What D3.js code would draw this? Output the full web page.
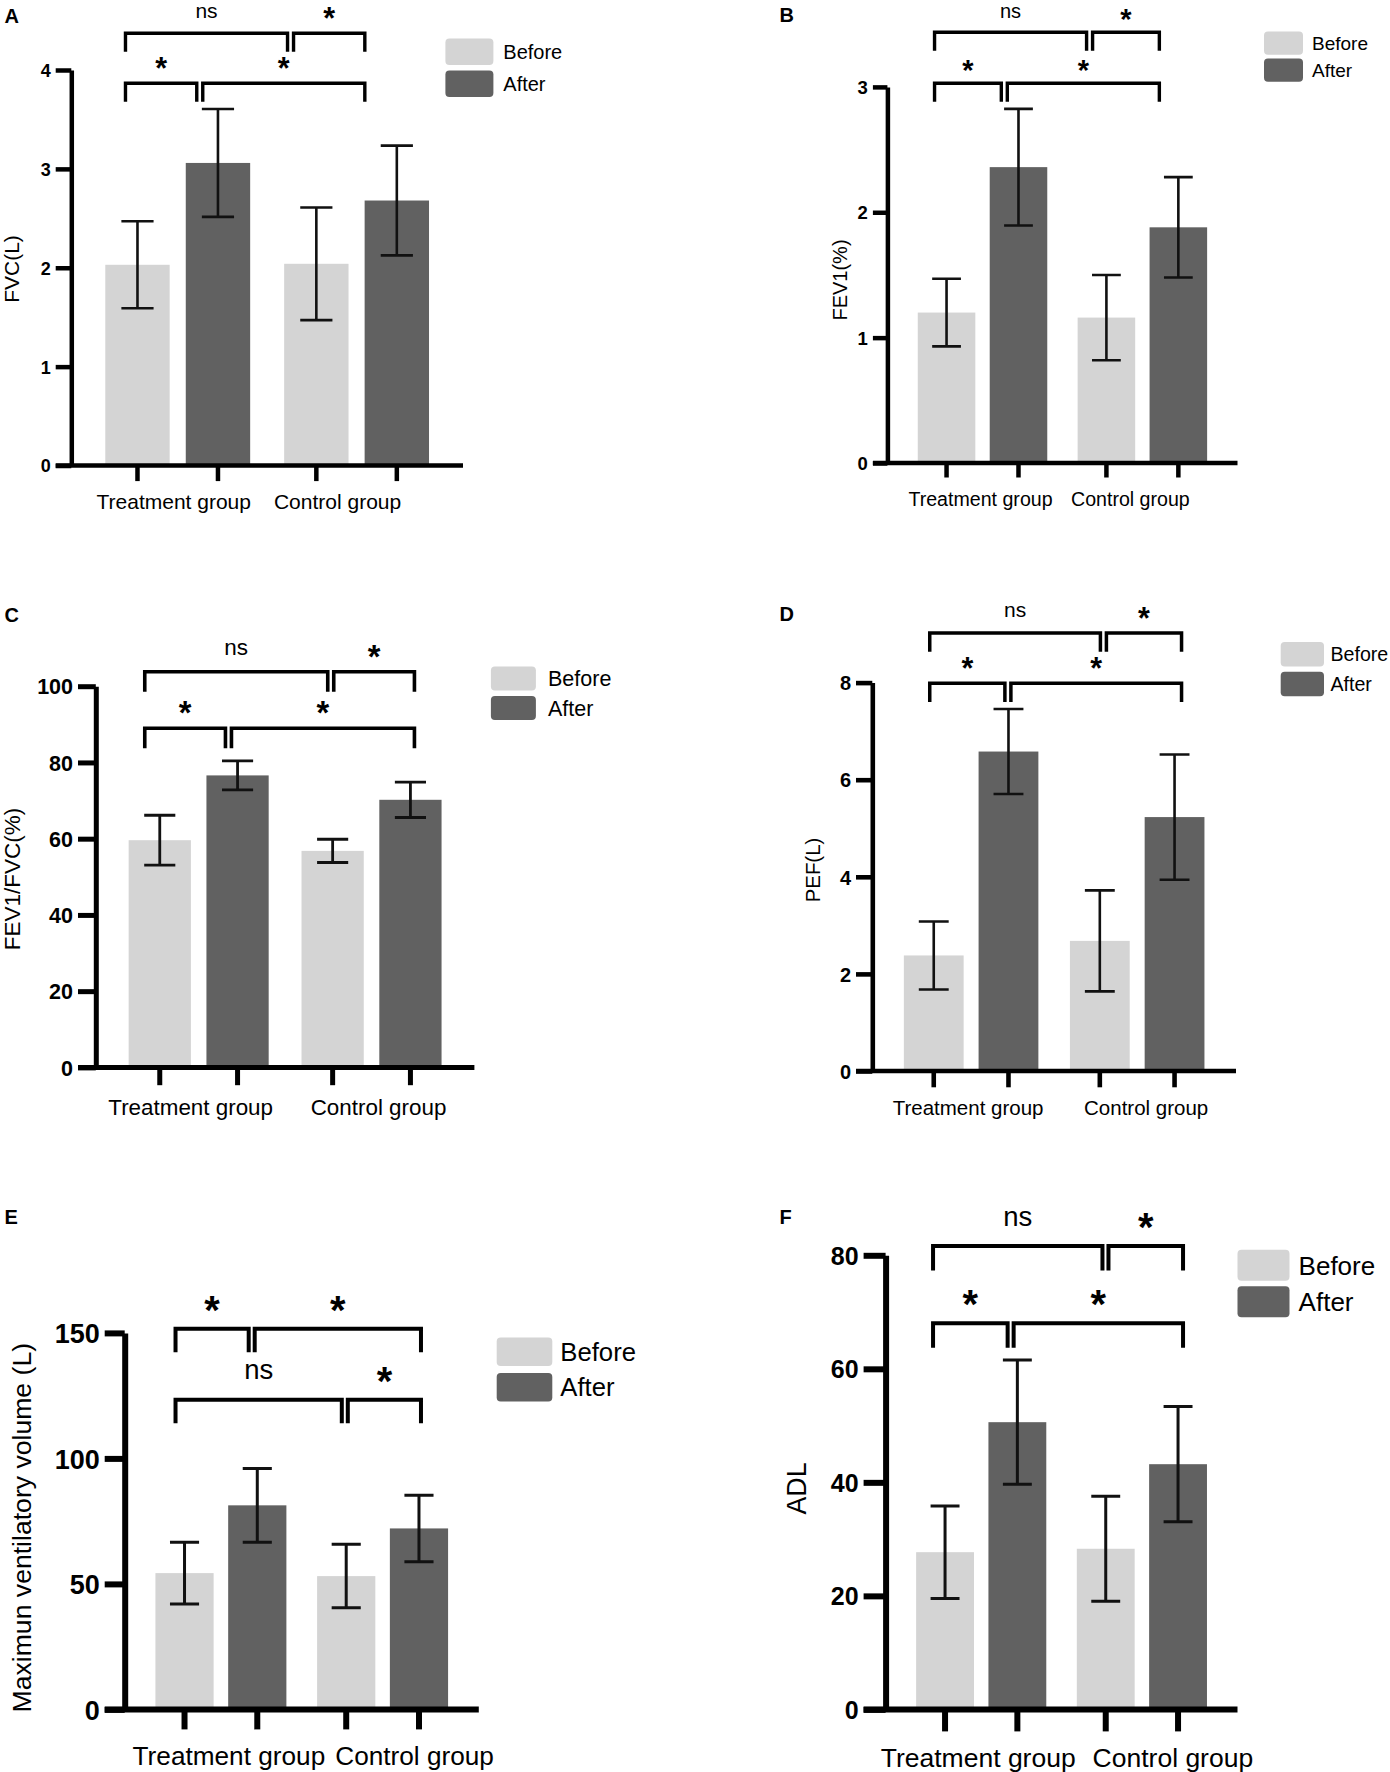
<!DOCTYPE html>
<html lang="en">
<head>
<meta charset="UTF-8" />
<title>Pulmonary function and ADL before and after treatment</title>
<style>
  body { margin: 0; background: #fff; }
  text { font-family: "Liberation Sans", Arial, Helvetica, sans-serif; fill: #000; }
</style>
</head>
<body>
<script src="https://d3js.org/d3.v7.min.js"></script>
<svg id="fig" width="1390" height="1772"></svg>
<script>
// Categories and series
var groups = ["Treatment group", "Control group"];
var series = ["Before", "After"];

// Means and SD, order: TG before, TG after, CG before, CG after
var fvcMean = [2.03, 3.06, 2.04, 2.68];
var fvcSd = [0.44, 0.545, 0.57, 0.555];
var fev1Mean = [1.2, 2.36, 1.16, 1.88];
var fev1Sd = [0.27, 0.465, 0.34, 0.4];
var ratioMean = [59.6, 76.6, 56.8, 70.2];
var ratioSd = [6.55, 3.8, 3.05, 4.65];
var pefMean = [2.38, 6.58, 2.68, 5.23];
var pefSd = [0.7, 0.875, 1.04, 1.29];
var mvvMean = [54.3, 81.3, 53.1, 72.1];
var mvvSd = [12.3, 14.7, 12.65, 13.25];
var adlMean = [27.7, 50.6, 28.3, 43.2];
var adlSd = [8.15, 10.95, 9.25, 10.15];

// Tick values
var fvcTicks = [0, 1, 2, 3, 4];
var fev1Ticks = [0, 1, 2, 3];
var ratioTicks = [0, 20, 40, 60, 80, 100];
var pefTicks = [0, 2, 4, 6, 8];
var mvvTicks = [0, 50, 100, 150];
var adlTicks = [0, 20, 40, 60, 80];

// Significance comparisons (bar indexes) and their labels
var sigPairs = [[0, 2], [2, 3], [0, 1], [1, 3]];
var sigLabels = ["ns", "*", "*", "*"];

var svg = d3.select("#fig");

var panels = [
  { letter: "A", lx: 4.5, ly: 23.3, mean: fvcMean, sd: fvcSd, ticks: fvcTicks,
    x0: 71.3, x1: 463, yTop: 70, yZero: 465.5, tick: 15.6, axisW: 4.5, errW: 2.6, brW: 3.4,
    tickFont: 18, yLabel: "FVC(L)", ylFont: 21, ylX: 18.5, ylY: 269,
    catFont: 21, catY: 509, catShift: [-4, -19],
    tiers: [1, 1, 0, 0], bracketY: [83.3, 33.3], leg: 18.4, bShift: [-12, -32], sigFont: 21,
    legX: 445.4, legY: 38.4, legW: 48, legH: 26.6, legGap: 5.4, legFont: 20, legTX: 503.3 },
  { letter: "B", lx: 779.6, ly: 22.3, mean: fev1Mean, sd: fev1Sd, ticks: fev1Ticks,
    x0: 887.4, x1: 1237.5, yTop: 86.9, yZero: 463, tick: 14.5, axisW: 4.5, errW: 2.6, brW: 3.4,
    tickFont: 18.5, yLabel: "FEV1(%)", ylFont: 20, ylX: 847, ylY: 280,
    catFont: 19.6, catY: 506, catShift: [-2, -12],
    tiers: [1, 1, 0, 0], bracketY: [83.3, 32.3], leg: 18.5, bShift: [-12, -19], sigFont: 20,
    legX: 1264, legY: 31.6, legW: 39, legH: 23.1, legGap: 3.9, legFont: 19, legTX: 1312 },
  { letter: "C", lx: 4.5, ly: 622.3, mean: ratioMean, sd: ratioSd, ticks: ratioTicks,
    x0: 95.8, x1: 474.4, yTop: 686.2, yZero: 1067.4, tick: 17.8, axisW: 5, errW: 2.8, brW: 3.6,
    tickFont: 21.5, yLabel: "FEV1/FVC(%)", ylFont: 22.5, ylX: 19.5, ylY: 879,
    catFont: 22.4, catY: 1114.8, catShift: [-8, 7],
    tiers: [1, 1, 0, 0], bracketY: [728.2, 671.8], leg: 20, bShift: [-15, 4], sigFont: 22.5,
    legX: 490.9, legY: 666.5, legW: 45, legH: 24, legGap: 5.4, legFont: 21.5, legTX: 548 },
  { letter: "D", lx: 779.6, ly: 620.5, mean: pefMean, sd: pefSd, ticks: pefTicks,
    x0: 872.3, x1: 1236, yTop: 682.6, yZero: 1071, tick: 16.3, axisW: 4.6, errW: 2.6, brW: 3.5,
    tickFont: 20, yLabel: "PEF(L)", ylFont: 20.4, ylX: 820, ylY: 870,
    catFont: 20.5, catY: 1114.8, catShift: [-3, 9],
    tiers: [1, 1, 0, 0], bracketY: [683.3, 633], leg: 18.7, bShift: [-4, 7], sigFont: 21,
    legX: 1280.7, legY: 642, legW: 43.3, legH: 24.5, legGap: 5.3, legFont: 19.6, legTX: 1330.5 },
  { letter: "E", lx: 4.5, ly: 1223.6, mean: mvvMean, sd: mvvSd, ticks: mvvTicks,
    x0: 124.7, x1: 478.8, yTop: 1332.9, yZero: 1709.4, tick: 20, axisW: 6, errW: 3, brW: 4,
    tickFont: 27, yLabel: "Maximun ventilatory volume (L)", ylFont: 26.6, ylX: 30.5, ylY: 1527.7,
    catFont: 26.2, catY: 1765, catShift: [8, 32],
    tiers: [0, 0, 1, 1], bracketY: [1399.7, 1328.8], leg: 23.5, bShift: [-9, 2], sigFont: 27.5,
    legX: 496.7, legY: 1337.4, legW: 55.6, legH: 28.5, legGap: 7, legFont: 25.7, legTX: 560.3 },
  { letter: "F", lx: 779.6, ly: 1223.6, mean: adlMean, sd: adlSd, ticks: adlTicks,
    x0: 885.6, x1: 1237.5, yTop: 1255.3, yZero: 1709.4, tick: 22, axisW: 6, errW: 3, brW: 4,
    tickFont: 25, yLabel: "ADL", ylFont: 26.8, ylX: 806.4, ylY: 1488.5,
    catFont: 26.5, catY: 1766.5, catShift: [-3, 31],
    tiers: [1, 1, 0, 0], bracketY: [1323.2, 1246], leg: 24.5, bShift: [-12, 5], sigFont: 27.5,
    legX: 1237.5, legY: 1249.7, legW: 52, legH: 31, legGap: 5.6, legFont: 26, legTX: 1298.6 }
];

var color = d3.scaleOrdinal().domain(series).range(["#d4d4d4", "#616161"]);

panels.forEach(drawPanel);

function drawPanel(p) {
  var g = svg.append("g");

  var y = d3.scaleLinear().domain([0, d3.max(p.ticks)]).range([p.yZero, p.yTop]);
  var x0 = d3.scaleBand().domain(groups).range([p.x0, p.x1]).padding(0.19);
  var x1 = d3.scaleBand().domain(series).range([0, x0.bandwidth()]).paddingInner(0.2);

  var bars = [];
  groups.forEach(function (gr, gi) {
    series.forEach(function (s, si) {
      var k = gi * series.length + si;
      bars.push({
        group: gr, serie: s, mean: p.mean[k], sd: p.sd[k],
        x: x0(gr) + x1(s), cx: x0(gr) + x1(s) + x1.bandwidth() / 2
      });
    });
  });

  // panel letter
  g.append("text").attr("x", p.lx).attr("y", p.ly)
    .attr("font-size", 20).attr("font-weight", "bold").text(p.letter);

  // bars
  g.selectAll(".bar").data(bars).enter().append("rect")
    .attr("class", "bar")
    .attr("x", function (d) { return d.x; })
    .attr("width", x1.bandwidth())
    .attr("y", function (d) { return y(d.mean); })
    .attr("height", function (d) { return y(0) - y(d.mean); })
    .attr("fill", function (d) { return color(d.serie); });

  // error bars (mean +/- SD)
  var cap = x1.bandwidth() * 0.25;
  g.selectAll(".err").data(bars).enter().append("path")
    .attr("class", "err")
    .attr("d", function (d) {
      var hi = y(d.mean + d.sd), lo = y(d.mean - d.sd);
      return "M" + (d.cx - cap) + "," + hi + "H" + (d.cx + cap) +
        "M" + d.cx + "," + hi + "V" + lo +
        "M" + (d.cx - cap) + "," + lo + "H" + (d.cx + cap);
    })
    .attr("fill", "none").attr("stroke", "#111").attr("stroke-width", p.errW);

  // y axis
  var ya = g.append("g").attr("transform", "translate(" + p.x0 + ",0)")
    .call(d3.axisLeft(y).tickValues(p.ticks).tickFormat(d3.format("d"))
      .tickSize(p.tick).tickSizeOuter(0).tickPadding(5));
  ya.select(".domain").attr("stroke", "#000").attr("stroke-width", p.axisW);
  ya.selectAll(".tick line").attr("stroke", "#000").attr("stroke-width", p.axisW);
  ya.selectAll(".tick text")
    .attr("font-size", p.tickFont).attr("font-weight", "bold")
    .attr("fill", "#000").attr("dy", "0.36em");

  // x axis line and ticks under each bar
  g.append("line")
    .attr("x1", p.x0 - p.tick).attr("x2", p.x1)
    .attr("y1", y(0)).attr("y2", y(0))
    .attr("stroke", "#000").attr("stroke-width", p.axisW);
  g.selectAll(".xt").data(bars).enter().append("line")
    .attr("class", "xt")
    .attr("x1", function (d) { return d.cx; }).attr("x2", function (d) { return d.cx; })
    .attr("y1", y(0)).attr("y2", y(0) + p.tick)
    .attr("stroke", "#000").attr("stroke-width", p.axisW);

  // category labels
  g.selectAll(".cat").data(groups).enter().append("text")
    .attr("class", "cat")
    .attr("x", function (d, i) { return x0(d) + x0.bandwidth() / 2 + p.catShift[i]; })
    .attr("y", p.catY)
    .attr("text-anchor", "middle")
    .attr("font-size", p.catFont)
    .text(function (d) { return d; });

  // y axis title
  g.append("text")
    .attr("transform", "translate(" + p.ylX + "," + p.ylY + ") rotate(-90)")
    .attr("text-anchor", "middle")
    .attr("font-size", p.ylFont)
    .text(p.yLabel);

  // legend
  series.forEach(function (s, i) {
    var ry = p.legY + i * (p.legH + p.legGap);
    g.append("rect")
      .attr("x", p.legX).attr("y", ry)
      .attr("width", p.legW).attr("height", p.legH)
      .attr("rx", 4).attr("fill", color(s));
    g.append("text")
      .attr("x", p.legTX).attr("y", ry + p.legH / 2 + p.legFont * 0.36)
      .attr("font-size", p.legFont)
      .text(s);
  });

  // significance brackets
  var first = bars[0].cx, last = bars[bars.length - 1].cx;
  var bx = d3.scaleLinear().domain([first, last]).range([first + p.bShift[0], last + p.bShift[1]]);
  sigPairs.forEach(function (pair, k) {
    var t = p.tiers[k];
    var yl = p.bracketY[t];
    var joinL = sigPairs.some(function (q, m) { return p.tiers[m] === t && q[1] === pair[0]; });
    var joinR = sigPairs.some(function (q, m) { return p.tiers[m] === t && q[0] === pair[1]; });
    var xa = bx(bars[pair[0]].cx) + (joinL ? 3 : 0);
    var xb = bx(bars[pair[1]].cx) - (joinR ? 3 : 0);
    g.append("path")
      .attr("d", "M" + xa + "," + (yl + p.leg) + "V" + yl + "H" + xb + "V" + (yl + p.leg))
      .attr("fill", "none").attr("stroke", "#000")
      .attr("stroke-width", p.brW).attr("stroke-linejoin", "miter");
    var lab = sigLabels[k];
    var mid = (xa + xb) / 2;
    var centerY = yl - p.sigFont;
    if (lab === "*") {
      var fs = p.sigFont * 1.45;
      g.append("text").attr("x", mid).attr("y", centerY + fs * 0.56)
        .attr("text-anchor", "middle").attr("font-size", fs)
        .attr("font-weight", "bold").text(lab);
    } else {
      g.append("text").attr("x", mid).attr("y", centerY + p.sigFont * 0.26)
        .attr("text-anchor", "middle").attr("font-size", p.sigFont).text(lab);
    }
  });
}
</script>
</body>
</html>
